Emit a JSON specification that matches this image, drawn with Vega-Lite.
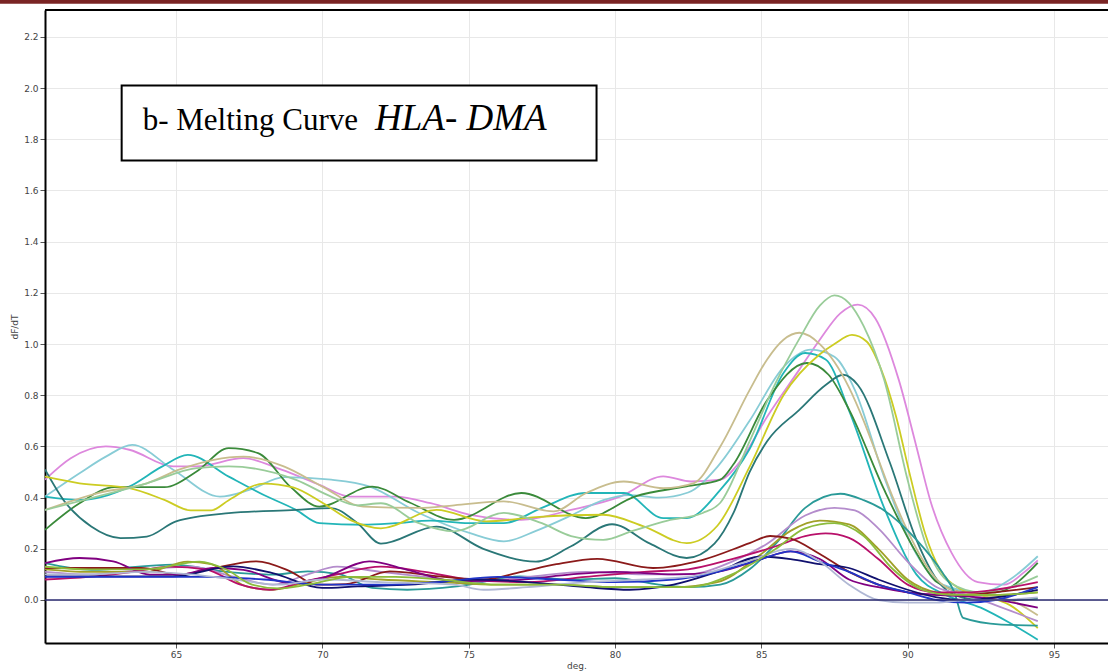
{
  "$schema": "https://vega.github.io/schema/vega-lite/v6.json",
  "width": 1063,
  "height": 633,
  "autosize": {"type": "none"},
  "padding": {"left": 45, "top": 10, "right": 0, "bottom": 28},
  "background": "white",
  "config": {"view": {"stroke": null}},
  "resolve": {"axis": {"x": "independent", "y": "independent"}},
  "datasets": {
    "one": [{}],
    "curves": [
      {"s":"pink","x":60.52,"y":0.47},{"s":"pink","x":61.4,"y":0.554},{"s":"pink","x":62.6,"y":0.6},{"s":"pink","x":63.4,"y":0.587},{"s":"pink","x":64.9,"y":0.522},{"s":"pink","x":65.7,"y":0.522},{"s":"pink","x":67.3,"y":0.554},{"s":"pink","x":68.6,"y":0.509},{"s":"pink","x":69.9,"y":0.45},{"s":"pink","x":70.95,"y":0.404},{"s":"pink","x":72.5,"y":0.404},{"s":"pink","x":73.7,"y":0.378},{"s":"pink","x":75.05,"y":0.333},{"s":"pink","x":76.8,"y":0.313},{"s":"pink","x":78.5,"y":0.352},{"s":"pink","x":80.2,"y":0.405},{"s":"pink","x":81.65,"y":0.483},{"s":"pink","x":82.6,"y":0.463},{"s":"pink","x":83.6,"y":0.47},{"s":"pink","x":84.2,"y":0.53},{"s":"pink","x":85.2,"y":0.716},{"s":"pink","x":86.3,"y":0.9},{"s":"pink","x":87.0,"y":1.017},{"s":"pink","x":87.7,"y":1.12},{"s":"pink","x":88.3,"y":1.154},{"s":"pink","x":88.9,"y":1.1},{"s":"pink","x":89.7,"y":0.86},{"s":"pink","x":90.3,"y":0.6},{"s":"pink","x":90.8,"y":0.38},{"s":"pink","x":91.5,"y":0.185},{"s":"pink","x":92.4,"y":0.07},{"s":"pink","x":93.3,"y":0.06},{"s":"pink","x":94.0,"y":0.11},{"s":"pink","x":94.45,"y":0.155},

      {"s":"lightcyan","x":60.52,"y":0.404},{"s":"lightcyan","x":61.7,"y":0.495},{"s":"lightcyan","x":62.6,"y":0.56},{"s":"lightcyan","x":63.5,"y":0.606},{"s":"lightcyan","x":64.9,"y":0.509},{"s":"lightcyan","x":66.5,"y":0.404},{"s":"lightcyan","x":67.5,"y":0.43},{"s":"lightcyan","x":68.7,"y":0.48},{"s":"lightcyan","x":70.3,"y":0.47},{"s":"lightcyan","x":71.6,"y":0.444},{"s":"lightcyan","x":73.3,"y":0.34},{"s":"lightcyan","x":75.05,"y":0.261},{"s":"lightcyan","x":76.2,"y":0.229},{"s":"lightcyan","x":77.3,"y":0.27},{"s":"lightcyan","x":78.5,"y":0.33},{"s":"lightcyan","x":79.6,"y":0.39},{"s":"lightcyan","x":80.5,"y":0.41},{"s":"lightcyan","x":81.5,"y":0.4},{"s":"lightcyan","x":82.5,"y":0.42},{"s":"lightcyan","x":83.5,"y":0.52},{"s":"lightcyan","x":84.6,"y":0.7},{"s":"lightcyan","x":85.76,"y":0.91},{"s":"lightcyan","x":86.7,"y":0.978},{"s":"lightcyan","x":87.5,"y":0.95},{"s":"lightcyan","x":88.2,"y":0.82},{"s":"lightcyan","x":89.2,"y":0.48},{"s":"lightcyan","x":90.3,"y":0.18},{"s":"lightcyan","x":91.2,"y":0.06},{"s":"lightcyan","x":92.5,"y":0.03},{"s":"lightcyan","x":93.5,"y":0.08},{"s":"lightcyan","x":94.45,"y":0.171},

      {"s":"cyan","x":60.52,"y":0.404},{"s":"cyan","x":61.7,"y":0.391},{"s":"cyan","x":63.4,"y":0.443},{"s":"cyan","x":64.5,"y":0.52},{"s":"cyan","x":65.4,"y":0.567},{"s":"cyan","x":66.8,"y":0.482},{"s":"cyan","x":68.0,"y":0.41},{"s":"cyan","x":69.1,"y":0.352},{"s":"cyan","x":69.9,"y":0.3},{"s":"cyan","x":71.4,"y":0.294},{"s":"cyan","x":72.5,"y":0.3},{"s":"cyan","x":73.7,"y":0.31},{"s":"cyan","x":75.0,"y":0.3},{"s":"cyan","x":76.2,"y":0.3},{"s":"cyan","x":77.5,"y":0.36},{"s":"cyan","x":79.0,"y":0.418},{"s":"cyan","x":80.3,"y":0.418},{"s":"cyan","x":81.65,"y":0.32},{"s":"cyan","x":82.45,"y":0.32},{"s":"cyan","x":83.6,"y":0.43},{"s":"cyan","x":84.6,"y":0.59},{"s":"cyan","x":85.76,"y":0.887},{"s":"cyan","x":86.5,"y":0.965},{"s":"cyan","x":87.2,"y":0.94},{"s":"cyan","x":88.0,"y":0.74},{"s":"cyan","x":89.2,"y":0.36},{"s":"cyan","x":90.3,"y":0.1},{"s":"cyan","x":91.3,"y":0.02},{"s":"cyan","x":92.5,"y":-0.03},{"s":"cyan","x":93.5,"y":-0.09},{"s":"cyan","x":94.45,"y":-0.155},

      {"s":"darkgreen","x":60.52,"y":0.274},{"s":"darkgreen","x":61.7,"y":0.378},{"s":"darkgreen","x":62.9,"y":0.441},{"s":"darkgreen","x":64.6,"y":0.441},{"s":"darkgreen","x":65.7,"y":0.502},{"s":"darkgreen","x":66.8,"y":0.593},{"s":"darkgreen","x":67.8,"y":0.574},{"s":"darkgreen","x":68.9,"y":0.443},{"s":"darkgreen","x":69.9,"y":0.365},{"s":"darkgreen","x":71.7,"y":0.443},{"s":"darkgreen","x":73.0,"y":0.38},{"s":"darkgreen","x":74.5,"y":0.313},{"s":"darkgreen","x":76.8,"y":0.418},{"s":"darkgreen","x":79.0,"y":0.32},{"s":"darkgreen","x":80.7,"y":0.405},{"s":"darkgreen","x":82.45,"y":0.444},{"s":"darkgreen","x":83.6,"y":0.47},{"s":"darkgreen","x":84.05,"y":0.53},{"s":"darkgreen","x":85.2,"y":0.78},{"s":"darkgreen","x":86.56,"y":0.926},{"s":"darkgreen","x":87.3,"y":0.88},{"s":"darkgreen","x":88.0,"y":0.744},{"s":"darkgreen","x":89.2,"y":0.431},{"s":"darkgreen","x":90.3,"y":0.184},{"s":"darkgreen","x":91.0,"y":0.07},{"s":"darkgreen","x":92.0,"y":0.03},{"s":"darkgreen","x":93.0,"y":0.03},{"s":"darkgreen","x":94.45,"y":0.145},

      {"s":"darkteal","x":60.52,"y":0.51},{"s":"darkteal","x":61.15,"y":0.391},{"s":"darkteal","x":62.1,"y":0.287},{"s":"darkteal","x":63.1,"y":0.242},{"s":"darkteal","x":64.0,"y":0.248},{"s":"darkteal","x":65.0,"y":0.307},{"s":"darkteal","x":66.8,"y":0.339},{"s":"darkteal","x":69.1,"y":0.352},{"s":"darkteal","x":70.3,"y":0.359},{"s":"darkteal","x":71.2,"y":0.3},{"s":"darkteal","x":72.0,"y":0.22},{"s":"darkteal","x":73.9,"y":0.287},{"s":"darkteal","x":75.5,"y":0.2},{"s":"darkteal","x":77.3,"y":0.15},{"s":"darkteal","x":78.5,"y":0.21},{"s":"darkteal","x":79.9,"y":0.296},{"s":"darkteal","x":81.2,"y":0.22},{"s":"darkteal","x":82.45,"y":0.164},{"s":"darkteal","x":83.4,"y":0.22},{"s":"darkteal","x":84.05,"y":0.34},{"s":"darkteal","x":84.6,"y":0.5},{"s":"darkteal","x":85.2,"y":0.62},{"s":"darkteal","x":86.3,"y":0.743},{"s":"darkteal","x":87.2,"y":0.84},{"s":"darkteal","x":87.8,"y":0.88},{"s":"darkteal","x":88.3,"y":0.84},{"s":"darkteal","x":89.4,"y":0.535},{"s":"darkteal","x":90.3,"y":0.236},{"s":"darkteal","x":91.0,"y":0.08},{"s":"darkteal","x":91.6,"y":0.02},{"s":"darkteal","x":92.5,"y":0.0},{"s":"darkteal","x":93.5,"y":0.0},{"s":"darkteal","x":94.45,"y":0.005},

      {"s":"yellow","x":60.52,"y":0.482},{"s":"yellow","x":61.7,"y":0.456},{"s":"yellow","x":63.4,"y":0.437},{"s":"yellow","x":64.6,"y":0.391},{"s":"yellow","x":65.5,"y":0.35},{"s":"yellow","x":66.2,"y":0.35},{"s":"yellow","x":66.8,"y":0.39},{"s":"yellow","x":68.0,"y":0.455},{"s":"yellow","x":69.0,"y":0.44},{"s":"yellow","x":70.0,"y":0.38},{"s":"yellow","x":71.0,"y":0.31},{"s":"yellow","x":72.0,"y":0.28},{"s":"yellow","x":73.9,"y":0.352},{"s":"yellow","x":75.6,"y":0.307},{"s":"yellow","x":77.3,"y":0.324},{"s":"yellow","x":79.6,"y":0.333},{"s":"yellow","x":81.0,"y":0.287},{"s":"yellow","x":82.45,"y":0.222},{"s":"yellow","x":83.5,"y":0.29},{"s":"yellow","x":84.6,"y":0.52},{"s":"yellow","x":85.76,"y":0.8},{"s":"yellow","x":87.0,"y":0.96},{"s":"yellow","x":87.5,"y":1.0},{"s":"yellow","x":88.1,"y":1.036},{"s":"yellow","x":88.6,"y":1.01},{"s":"yellow","x":89.1,"y":0.9},{"s":"yellow","x":89.6,"y":0.72},{"s":"yellow","x":90.1,"y":0.48},{"s":"yellow","x":90.6,"y":0.26},{"s":"yellow","x":91.1,"y":0.12},{"s":"yellow","x":91.7,"y":0.05},{"s":"yellow","x":92.5,"y":0.02},{"s":"yellow","x":93.5,"y":-0.02},{"s":"yellow","x":94.45,"y":-0.11},

      {"s":"tan","x":60.52,"y":0.352},{"s":"tan","x":62.3,"y":0.417},{"s":"tan","x":64.0,"y":0.456},{"s":"tan","x":65.1,"y":0.509},{"s":"tan","x":67.3,"y":0.56},{"s":"tan","x":68.7,"y":0.521},{"s":"tan","x":70.0,"y":0.443},{"s":"tan","x":71.4,"y":0.365},{"s":"tan","x":73.3,"y":0.36},{"s":"tan","x":74.5,"y":0.37},{"s":"tan","x":76.2,"y":0.385},{"s":"tan","x":77.9,"y":0.346},{"s":"tan","x":79.0,"y":0.417},{"s":"tan","x":80.3,"y":0.463},{"s":"tan","x":81.65,"y":0.437},{"s":"tan","x":82.7,"y":0.457},{"s":"tan","x":83.6,"y":0.6},{"s":"tan","x":84.6,"y":0.82},{"s":"tan","x":85.2,"y":0.94},{"s":"tan","x":85.76,"y":1.017},{"s":"tan","x":86.3,"y":1.044},{"s":"tan","x":87.0,"y":1.0},{"s":"tan","x":87.5,"y":0.93},{"s":"tan","x":88.0,"y":0.83},{"s":"tan","x":88.5,"y":0.7},{"s":"tan","x":89.0,"y":0.55},{"s":"tan","x":89.5,"y":0.4},{"s":"tan","x":90.0,"y":0.27},{"s":"tan","x":90.5,"y":0.16},{"s":"tan","x":91.0,"y":0.08},{"s":"tan","x":91.5,"y":0.04},{"s":"tan","x":92.5,"y":0.02},{"s":"tan","x":93.5,"y":0.0},{"s":"tan","x":94.45,"y":-0.06},

      {"s":"lightgreen","x":60.52,"y":0.352},{"s":"lightgreen","x":62.3,"y":0.404},{"s":"lightgreen","x":64.0,"y":0.456},{"s":"lightgreen","x":65.7,"y":0.515},{"s":"lightgreen","x":66.8,"y":0.522},{"s":"lightgreen","x":69.1,"y":0.469},{"s":"lightgreen","x":70.3,"y":0.404},{"s":"lightgreen","x":71.2,"y":0.37},{"s":"lightgreen","x":72.0,"y":0.378},{"s":"lightgreen","x":73.3,"y":0.3},{"s":"lightgreen","x":74.5,"y":0.268},{"s":"lightgreen","x":76.2,"y":0.34},{"s":"lightgreen","x":77.5,"y":0.3},{"s":"lightgreen","x":78.5,"y":0.25},{"s":"lightgreen","x":79.6,"y":0.235},{"s":"lightgreen","x":80.6,"y":0.27},{"s":"lightgreen","x":81.8,"y":0.31},{"s":"lightgreen","x":83.0,"y":0.34},{"s":"lightgreen","x":83.6,"y":0.38},{"s":"lightgreen","x":84.6,"y":0.62},{"s":"lightgreen","x":85.5,"y":0.85},{"s":"lightgreen","x":86.3,"y":1.02},{"s":"lightgreen","x":87.0,"y":1.15},{"s":"lightgreen","x":87.5,"y":1.19},{"s":"lightgreen","x":88.0,"y":1.16},{"s":"lightgreen","x":88.5,"y":1.07},{"s":"lightgreen","x":89.2,"y":0.86},{"s":"lightgreen","x":90.0,"y":0.47},{"s":"lightgreen","x":90.65,"y":0.21},{"s":"lightgreen","x":91.45,"y":0.067},{"s":"lightgreen","x":92.5,"y":0.03},{"s":"lightgreen","x":93.5,"y":0.05},{"s":"lightgreen","x":94.45,"y":0.093},

      {"s":"teal2","x":60.52,"y":0.144},{"s":"teal2","x":62.1,"y":0.118},{"s":"teal2","x":64.9,"y":0.138},{"s":"teal2","x":66.6,"y":0.112},{"s":"teal2","x":68.3,"y":0.099},{"s":"teal2","x":69.5,"y":0.112},{"s":"teal2","x":70.6,"y":0.1},{"s":"teal2","x":71.7,"y":0.047},{"s":"teal2","x":72.9,"y":0.04},{"s":"teal2","x":74.6,"y":0.053},{"s":"teal2","x":76.75,"y":0.092},{"s":"teal2","x":78.5,"y":0.08},{"s":"teal2","x":80.0,"y":0.085},{"s":"teal2","x":81.5,"y":0.06},{"s":"teal2","x":82.5,"y":0.05},{"s":"teal2","x":83.6,"y":0.06},{"s":"teal2","x":84.6,"y":0.12},{"s":"teal2","x":85.5,"y":0.22},{"s":"teal2","x":86.5,"y":0.36},{"s":"teal2","x":87.7,"y":0.415},{"s":"teal2","x":88.5,"y":0.39},{"s":"teal2","x":89.2,"y":0.35},{"s":"teal2","x":90.3,"y":0.236},{"s":"teal2","x":91.2,"y":0.106},{"s":"teal2","x":91.6,"y":0.03},{"s":"teal2","x":91.9,"y":-0.07},{"s":"teal2","x":93.2,"y":-0.096},{"s":"teal2","x":94.45,"y":-0.1},

      {"s":"lightpurple","x":60.52,"y":0.11},{"s":"lightpurple","x":62.0,"y":0.1},{"s":"lightpurple","x":64.0,"y":0.12},{"s":"lightpurple","x":65.5,"y":0.13},{"s":"lightpurple","x":67.0,"y":0.09},{"s":"lightpurple","x":68.3,"y":0.06},{"s":"lightpurple","x":69.5,"y":0.1},{"s":"lightpurple","x":70.5,"y":0.13},{"s":"lightpurple","x":72.0,"y":0.11},{"s":"lightpurple","x":73.5,"y":0.09},{"s":"lightpurple","x":75.0,"y":0.07},{"s":"lightpurple","x":77.0,"y":0.09},{"s":"lightpurple","x":79.0,"y":0.11},{"s":"lightpurple","x":81.0,"y":0.1},{"s":"lightpurple","x":82.5,"y":0.1},{"s":"lightpurple","x":84.0,"y":0.15},{"s":"lightpurple","x":85.2,"y":0.22},{"s":"lightpurple","x":86.5,"y":0.33},{"s":"lightpurple","x":87.5,"y":0.36},{"s":"lightpurple","x":88.2,"y":0.35},{"s":"lightpurple","x":89.0,"y":0.28},{"s":"lightpurple","x":90.0,"y":0.15},{"s":"lightpurple","x":91.0,"y":0.05},{"s":"lightpurple","x":92.0,"y":0.02},{"s":"lightpurple","x":93.0,"y":-0.02},{"s":"lightpurple","x":94.45,"y":-0.083},

      {"s":"olive","x":60.52,"y":0.12},{"s":"olive","x":62.0,"y":0.11},{"s":"olive","x":64.0,"y":0.11},{"s":"olive","x":65.4,"y":0.15},{"s":"olive","x":66.2,"y":0.14},{"s":"olive","x":67.4,"y":0.053},{"s":"olive","x":68.3,"y":0.04},{"s":"olive","x":69.5,"y":0.07},{"s":"olive","x":70.6,"y":0.09},{"s":"olive","x":72.0,"y":0.08},{"s":"olive","x":74.0,"y":0.07},{"s":"olive","x":76.0,"y":0.06},{"s":"olive","x":78.0,"y":0.06},{"s":"olive","x":80.0,"y":0.05},{"s":"olive","x":82.0,"y":0.05},{"s":"olive","x":83.5,"y":0.07},{"s":"olive","x":85.0,"y":0.18},{"s":"olive","x":86.0,"y":0.27},{"s":"olive","x":87.0,"y":0.31},{"s":"olive","x":88.0,"y":0.295},{"s":"olive","x":89.0,"y":0.2},{"s":"olive","x":90.0,"y":0.08},{"s":"olive","x":91.0,"y":0.03},{"s":"olive","x":92.0,"y":0.02},{"s":"olive","x":93.0,"y":0.02},{"s":"olive","x":94.45,"y":0.03},

      {"s":"magenta","x":60.52,"y":0.08},{"s":"magenta","x":62.0,"y":0.09},{"s":"magenta","x":63.5,"y":0.11},{"s":"magenta","x":64.8,"y":0.13},{"s":"magenta","x":66.0,"y":0.12},{"s":"magenta","x":67.2,"y":0.06},{"s":"magenta","x":68.2,"y":0.04},{"s":"magenta","x":69.3,"y":0.07},{"s":"magenta","x":70.5,"y":0.1},{"s":"magenta","x":72.0,"y":0.13},{"s":"magenta","x":73.5,"y":0.11},{"s":"magenta","x":75.0,"y":0.08},{"s":"magenta","x":77.0,"y":0.07},{"s":"magenta","x":79.0,"y":0.09},{"s":"magenta","x":81.0,"y":0.11},{"s":"magenta","x":82.5,"y":0.12},{"s":"magenta","x":84.0,"y":0.16},{"s":"magenta","x":85.5,"y":0.21},{"s":"magenta","x":86.5,"y":0.25},{"s":"magenta","x":87.2,"y":0.26},{"s":"magenta","x":88.0,"y":0.243},{"s":"magenta","x":89.0,"y":0.16},{"s":"magenta","x":90.0,"y":0.06},{"s":"magenta","x":91.0,"y":0.03},{"s":"magenta","x":92.0,"y":0.03},{"s":"magenta","x":93.0,"y":0.04},{"s":"magenta","x":94.45,"y":0.07},

      {"s":"darkred","x":60.52,"y":0.125},{"s":"darkred","x":63.8,"y":0.125},{"s":"darkred","x":65.1,"y":0.099},{"s":"darkred","x":66.3,"y":0.125},{"s":"darkred","x":67.75,"y":0.151},{"s":"darkred","x":68.9,"y":0.112},{"s":"darkred","x":69.8,"y":0.06},{"s":"darkred","x":70.8,"y":0.062},{"s":"darkred","x":72.3,"y":0.112},{"s":"darkred","x":74.0,"y":0.092},{"s":"darkred","x":75.5,"y":0.08},{"s":"darkred","x":76.8,"y":0.11},{"s":"darkred","x":78.0,"y":0.14},{"s":"darkred","x":79.4,"y":0.161},{"s":"darkred","x":81.3,"y":0.125},{"s":"darkred","x":83.0,"y":0.157},{"s":"darkred","x":84.6,"y":0.222},{"s":"darkred","x":85.3,"y":0.25},{"s":"darkred","x":86.0,"y":0.24},{"s":"darkred","x":87.0,"y":0.18},{"s":"darkred","x":88.0,"y":0.11},{"s":"darkred","x":89.0,"y":0.06},{"s":"darkred","x":90.0,"y":0.03},{"s":"darkred","x":91.0,"y":0.02},{"s":"darkred","x":92.0,"y":0.02},{"s":"darkred","x":93.0,"y":0.03},{"s":"darkred","x":94.45,"y":0.05},

      {"s":"purple","x":60.52,"y":0.144},{"s":"purple","x":61.7,"y":0.164},{"s":"purple","x":62.85,"y":0.151},{"s":"purple","x":64.1,"y":0.099},{"s":"purple","x":65.1,"y":0.099},{"s":"purple","x":66.3,"y":0.125},{"s":"purple","x":67.3,"y":0.118},{"s":"purple","x":68.9,"y":0.066},{"s":"purple","x":70.0,"y":0.086},{"s":"purple","x":71.6,"y":0.151},{"s":"purple","x":72.9,"y":0.118},{"s":"purple","x":74.6,"y":0.073},{"s":"purple","x":76.75,"y":0.079},{"s":"purple","x":78.5,"y":0.1},{"s":"purple","x":80.0,"y":0.11},{"s":"purple","x":82.0,"y":0.1},{"s":"purple","x":83.5,"y":0.11},{"s":"purple","x":85.0,"y":0.16},{"s":"purple","x":86.0,"y":0.19},{"s":"purple","x":87.0,"y":0.16},{"s":"purple","x":88.0,"y":0.08},{"s":"purple","x":89.0,"y":0.05},{"s":"purple","x":90.0,"y":0.03},{"s":"purple","x":91.0,"y":0.02},{"s":"purple","x":92.5,"y":0.01},{"s":"purple","x":94.45,"y":-0.03},

      {"s":"navy","x":60.52,"y":0.092},{"s":"navy","x":64.9,"y":0.092},{"s":"navy","x":66.95,"y":0.131},{"s":"navy","x":68.3,"y":0.105},{"s":"navy","x":70.0,"y":0.047},{"s":"navy","x":71.2,"y":0.053},{"s":"navy","x":73.0,"y":0.06},{"s":"navy","x":75.2,"y":0.08},{"s":"navy","x":77.0,"y":0.07},{"s":"navy","x":79.0,"y":0.05},{"s":"navy","x":80.5,"y":0.04},{"s":"navy","x":82.0,"y":0.06},{"s":"navy","x":83.5,"y":0.11},{"s":"navy","x":85.0,"y":0.17},{"s":"navy","x":86.0,"y":0.16},{"s":"navy","x":87.0,"y":0.14},{"s":"navy","x":88.0,"y":0.125},{"s":"navy","x":89.0,"y":0.08},{"s":"navy","x":90.0,"y":0.04},{"s":"navy","x":91.0,"y":0.01},{"s":"navy","x":92.0,"y":0.0},{"s":"navy","x":93.0,"y":0.01},{"s":"navy","x":94.45,"y":0.04},

      {"s":"blue","x":60.52,"y":0.09},{"s":"blue","x":63.0,"y":0.09},{"s":"blue","x":66.0,"y":0.09},{"s":"blue","x":68.0,"y":0.08},{"s":"blue","x":70.0,"y":0.06},{"s":"blue","x":72.0,"y":0.06},{"s":"blue","x":74.0,"y":0.07},{"s":"blue","x":76.0,"y":0.09},{"s":"blue","x":78.0,"y":0.08},{"s":"blue","x":80.0,"y":0.07},{"s":"blue","x":82.0,"y":0.08},{"s":"blue","x":83.5,"y":0.11},{"s":"blue","x":85.0,"y":0.16},{"s":"blue","x":86.0,"y":0.19},{"s":"blue","x":87.0,"y":0.15},{"s":"blue","x":88.0,"y":0.11},{"s":"blue","x":89.0,"y":0.06},{"s":"blue","x":90.0,"y":0.03},{"s":"blue","x":91.0,"y":0.0},{"s":"blue","x":92.0,"y":-0.01},{"s":"blue","x":93.0,"y":0.0},{"s":"blue","x":94.45,"y":0.05},

      {"s":"lightgray","x":60.52,"y":0.1},{"s":"lightgray","x":62.0,"y":0.1},{"s":"lightgray","x":64.0,"y":0.11},{"s":"lightgray","x":65.5,"y":0.1},{"s":"lightgray","x":67.0,"y":0.08},{"s":"lightgray","x":68.5,"y":0.06},{"s":"lightgray","x":70.0,"y":0.08},{"s":"lightgray","x":72.0,"y":0.07},{"s":"lightgray","x":74.5,"y":0.06},{"s":"lightgray","x":75.5,"y":0.04},{"s":"lightgray","x":77.0,"y":0.05},{"s":"lightgray","x":79.0,"y":0.07},{"s":"lightgray","x":81.0,"y":0.08},{"s":"lightgray","x":82.5,"y":0.09},{"s":"lightgray","x":84.5,"y":0.15},{"s":"lightgray","x":86.0,"y":0.2},{"s":"lightgray","x":87.0,"y":0.15},{"s":"lightgray","x":88.0,"y":0.06},{"s":"lightgray","x":89.0,"y":0.0},{"s":"lightgray","x":90.0,"y":-0.01},{"s":"lightgray","x":91.0,"y":-0.01},{"s":"lightgray","x":92.0,"y":0.0},{"s":"lightgray","x":93.0,"y":0.0},{"s":"lightgray","x":94.45,"y":0.01},

      {"s":"yellowgreen","x":60.52,"y":0.13},{"s":"yellowgreen","x":62.0,"y":0.12},{"s":"yellowgreen","x":64.0,"y":0.12},{"s":"yellowgreen","x":65.8,"y":0.15},{"s":"yellowgreen","x":66.7,"y":0.12},{"s":"yellowgreen","x":67.6,"y":0.06},{"s":"yellowgreen","x":68.5,"y":0.045},{"s":"yellowgreen","x":69.5,"y":0.06},{"s":"yellowgreen","x":71.0,"y":0.09},{"s":"yellowgreen","x":72.5,"y":0.09},{"s":"yellowgreen","x":74.0,"y":0.08},{"s":"yellowgreen","x":76.0,"y":0.06},{"s":"yellowgreen","x":78.0,"y":0.06},{"s":"yellowgreen","x":80.0,"y":0.05},{"s":"yellowgreen","x":81.5,"y":0.05},{"s":"yellowgreen","x":82.5,"y":0.05},{"s":"yellowgreen","x":84.0,"y":0.1},{"s":"yellowgreen","x":85.5,"y":0.2},{"s":"yellowgreen","x":86.5,"y":0.28},{"s":"yellowgreen","x":87.5,"y":0.3},{"s":"yellowgreen","x":88.5,"y":0.25},{"s":"yellowgreen","x":89.5,"y":0.12},{"s":"yellowgreen","x":90.5,"y":0.04},{"s":"yellowgreen","x":91.5,"y":0.02},{"s":"yellowgreen","x":93.0,"y":0.02},{"s":"yellowgreen","x":94.45,"y":0.03}
    ]
  },
  "layer": [
    {
      "data": {"name": "curves"},
      "mark": {"type": "line", "interpolate": "monotone", "strokeWidth": 1.8, "clip": true},
      "encoding": {
        "x": {
          "field": "x", "type": "quantitative",
          "scale": {"domain": [60.52, 96.85], "nice": false, "zero": false},
          "axis": {
            "values": [65, 70, 75, 80, 85, 90, 95],
            "title": "deg.",
            "grid": true, "gridColor": "#e8e8e8",
            "domainColor": "#000000", "domainWidth": 2,
            "tickColor": "#555555", "tickSize": 5,
            "labelFont": "DejaVu Sans", "labelFontSize": 9, "labelColor": "#444444", "labelPadding": 2,
            "titleFont": "DejaVu Sans", "titleFontSize": 9, "titleFontWeight": "normal", "titleColor": "#444444", "titlePadding": 2
          }
        },
        "y": {
          "field": "y", "type": "quantitative",
          "scale": {"domain": [-0.168, 2.305], "nice": false, "zero": false},
          "axis": {
            "values": [0, 0.2, 0.4, 0.6, 0.8, 1.0, 1.2, 1.4, 1.6, 1.8, 2.0, 2.2],
            "format": ".1f",
            "title": "dF/dT",
            "grid": true, "gridColor": "#e8e8e8",
            "domainColor": "#000000", "domainWidth": 2,
            "tickColor": "#555555", "tickSize": 5,
            "labelFont": "DejaVu Sans", "labelFontSize": 9, "labelColor": "#444444", "labelPadding": 2,
            "titleFont": "DejaVu Sans", "titleFontSize": 9, "titleFontWeight": "normal", "titleColor": "#444444", "titlePadding": 4
          }
        },
        "color": {
          "field": "s", "type": "nominal", "legend": null,
          "scale": {
            "domain": ["pink","lightcyan","cyan","darkgreen","darkteal","yellow","tan","lightgreen","teal2","lightpurple","olive","magenta","darkred","purple","navy","blue","lightgray","yellowgreen"],
            "range": ["#dd88dd","#88ccd6","#22b5b8","#3a8a3a","#2a7777","#cccc22","#c8bd8e","#99cc99","#2a9a98","#b48ccc","#a0a028","#b8106a","#8b1a1a","#800080","#10106e","#2035c8","#b0b8d4","#8cbc3c"]
          },
          "sort": null
        },
        "detail": {"field": "s"}
      }
    },
    {
      "data": {"name": "one"},
      "mark": {"type": "rule", "color": "#2a2a70", "strokeWidth": 1.3},
      "encoding": {
        "y": {"datum": 0, "type": "quantitative", "axis": null}
      }
    },
    {
      "data": {"name": "one"},
      "mark": {"type": "rect", "fill": "#000000", "strokeWidth": 0},
      "encoding": {
        "x": {"datum": 60.52, "type": "quantitative", "axis": null},
        "x2": {"datum": 96.85},
        "y": {"datum": 2.3014, "type": "quantitative", "axis": null},
        "y2": {"datum": 2.3092}
      }
    },
    {
      "data": {"name": "one"},
      "mark": {"type": "rect", "fill": "#7a2424", "strokeWidth": 0},
      "encoding": {
        "x": {"datum": 58.98, "type": "quantitative", "axis": null},
        "x2": {"datum": 96.85},
        "y": {"datum": 2.3295, "type": "quantitative", "axis": null},
        "y2": {"datum": 2.345}
      }
    },
    {
      "data": {"name": "one"},
      "mark": {"type": "rect", "fill": "#ffffff", "stroke": "#000000", "strokeWidth": 2},
      "encoding": {
        "x": {"datum": 63.14, "type": "quantitative", "axis": null},
        "x2": {"datum": 79.37},
        "y": {"datum": 2.01, "type": "quantitative", "axis": null},
        "y2": {"datum": 1.717}
      }
    },
    {
      "data": {"name": "one"},
      "mark": {"type": "text", "text": "b- Melting Curve", "font": "Liberation Serif", "fontSize": 31, "align": "left", "baseline": "alphabetic", "color": "#000000"},
      "encoding": {
        "x": {"datum": 63.86, "type": "quantitative", "axis": null},
        "y": {"datum": 1.837, "type": "quantitative", "axis": null}
      }
    },
    {
      "data": {"name": "one"},
      "mark": {"type": "text", "text": "HLA- DMA", "font": "Liberation Serif", "fontStyle": "italic", "fontSize": 37, "align": "left", "baseline": "alphabetic", "color": "#000000"},
      "encoding": {
        "x": {"datum": 71.8, "type": "quantitative", "axis": null},
        "y": {"datum": 1.837, "type": "quantitative", "axis": null}
      }
    }
  ]
}
